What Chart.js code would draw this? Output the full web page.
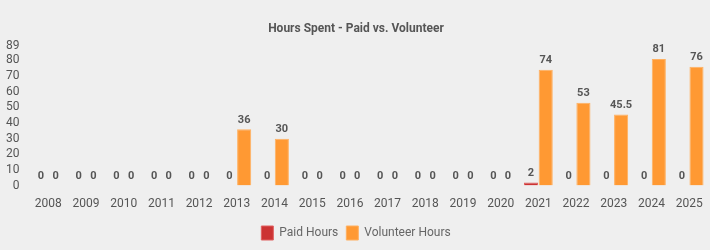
<!DOCTYPE html>
<html><head><meta charset="utf-8">
<script src="https://cdn.jsdelivr.net/npm/chart.js@4"></script>
<style>html,body{margin:0;padding:0;background:#efefef;}#wrap{width:710px;height:250px;}</style>
</head><body><div id="wrap"><canvas id="c" width="710" height="250"></canvas></div>
<script>
const categories = ['2008','2009','2010','2011','2012','2013','2014','2015','2016','2017','2018','2019','2020','2021','2022','2023','2024','2025'];
const paidHours = [0,0,0,0,0,0,0,0,0,0,0,0,0,2,0,0,0,0];
const volunteerHours = [0,0,0,0,0,36,30,0,0,0,0,0,0,74,53,45.5,81,76];
const yTicks = [0,10,20,30,40,50,60,70,80,89];

const labelPlugin = {
  id: 'barLabels',
  afterDatasetsDraw(chart) {
    const ctx = chart.ctx;
    ctx.save();
    ctx.font = 'bold 11px Roboto';
    ctx.fillStyle = '#555555';
    ctx.textAlign = 'center';
    ctx.textBaseline = 'bottom';
    chart.data.datasets.forEach((ds, i) => {
      const meta = chart.getDatasetMeta(i);
      meta.data.forEach((bar, j) => {
        ctx.fillText(String(ds.data[j]), bar.x, bar.y - 4);
      });
    });
    ctx.restore();
  }
};

new Chart(document.getElementById('c'), {
  type: 'bar',
  data: {
    labels: categories,
    datasets: [
      { label: 'Paid Hours', data: paidHours, backgroundColor: '#cc3333', borderColor: '#e06060', borderWidth: 1, categoryPercentage: 0.78, barPercentage: 0.96 },
      { label: 'Volunteer Hours', data: volunteerHours, backgroundColor: '#ff9933', borderColor: '#ffb060', borderWidth: 1, categoryPercentage: 0.78, barPercentage: 0.96 }
    ]
  },
  options: {
    responsive: false,
    animation: false,
    layout: { padding: { left: 4, right: 2, top: 12, bottom: 0 } },
    plugins: {
      title: { display: true, text: 'Hours Spent - Paid vs. Volunteer', color: '#555555', font: { family: 'Roboto', size: 12, weight: 'bold' }, padding: { top: 10, bottom: 10 } },
      legend: { position: 'bottom', labels: { color: '#666666', font: { family: 'Roboto', size: 12 }, boxWidth: 12, boxHeight: 14, padding: 8 } },
      tooltip: { enabled: false }
    },
    scales: {
      x: {
        grid: { display: false },
        border: { display: false },
        afterFit(axis) { axis.height += 4; },
        ticks: { color: '#555555', font: { family: 'Roboto', size: 12 }, padding: 3 }
      },
      y: {
        min: 0, max: 89,
        grid: { display: false },
        border: { display: false },
        afterBuildTicks(axis) { axis.ticks = yTicks.map(v => ({ value: v })); },
        ticks: { color: '#555555', font: { family: 'Roboto', size: 12 }, padding: 2, autoSkip: false }
      }
    }
  },
  plugins: [labelPlugin]
});
</script></body></html>
